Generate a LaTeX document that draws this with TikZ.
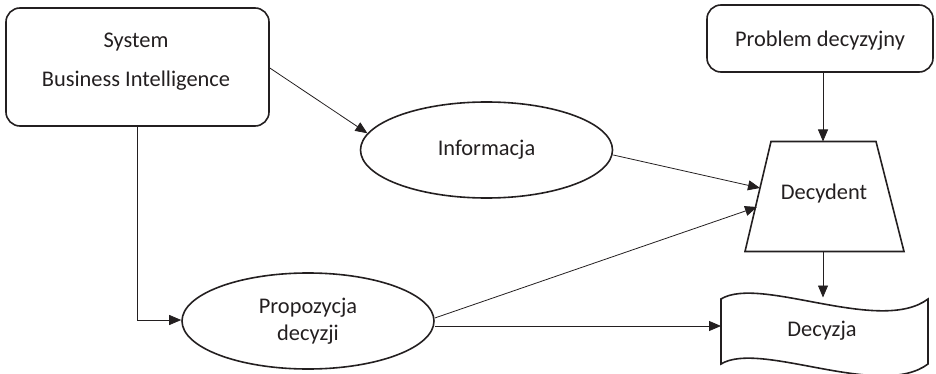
\documentclass[tikz,border=0pt]{standalone}
\usepackage{fontspec}
\setmainfont{Carlito}
\usetikzlibrary{shapes.geometric,arrows.meta}
\definecolor{ink}{HTML}{231F20}
\begin{document}
\begin{tikzpicture}[x=1pt,y=-1pt,
  every node/.style={text=ink,font={\fontsize{22.4}{27}\selectfont}},
  box/.style={draw=ink,line width=1.6pt,rounded corners=14pt,inner sep=0pt},
  oval/.style={draw=ink,line width=1.6pt,ellipse,inner sep=0pt,minimum width=252pt,minimum height=96pt,align=center},
  shapeline/.style={draw=ink,line width=1.6pt,line join=miter},
  conn/.style={draw=ink,line width=0.8pt,-{Triangle[length=12pt,width=10pt]}}]
\useasboundingbox (0,0) rectangle (936,374);
% boxes
\node[box,minimum width=263pt,minimum height=118pt] (bi) at (137.5,67) {};
\node (bitxt) at (136,62) [align=center,font={\fontsize{22.4}{39}\selectfont}] {System\\Business Intelligence};
\node[box,minimum width=226pt,minimum height=67pt] (prob) at (820,38.5) {};
\node (probtxt) at (820,41) {Problem decyzyjny};
% ellipses
\node[oval] (inf) at (486.5,150) {Informacja};
\node[oval] (prop) at (308,321) {Propozycja\\decyzji};
% trapezium (Decydent)
\draw[shapeline] (771,141.5) -- (876,141.5) -- (904,251.5) -- (745,251.5) -- cycle;
\node (dec) at (824,194) {Decydent};
\coordinate (decTop) at (823,141.5);
\coordinate (decBot) at (823,251.5);
\coordinate (decA) at (760,188);
\coordinate (decB) at (757,207);
% wavy document (Decyzja)
\draw[shapeline] (721,299) .. controls (760,275) and (880,335) .. (928,299)
  -- (928,364) .. controls (880,400) and (760,340) .. (721,364) -- cycle;
\node (dcz) at (822,331) {Decyzja};
\coordinate (dczTop) at (823,297.5);
\coordinate (dczLeft) at (721,326);
% corner of the elbow connector
\coordinate (elbow) at (137,320);
% connectors
\draw[conn] (bi.east |- 0,68) -- (inf.172);
\draw[conn] (bi.south -| elbow) -- (elbow) -- (prop.west |- elbow);
\draw[conn] (inf.east |- 0,155) -- (decA);
\draw[conn] (prop.east |- 0,318) -- (decB);
\draw[conn] (prop.east |- 0,326) -- (dczLeft);
\draw[conn] (prob.south -| decTop) -- (decTop);
\draw[conn] (decBot) -- (dczTop);
\end{tikzpicture}
\end{document}
